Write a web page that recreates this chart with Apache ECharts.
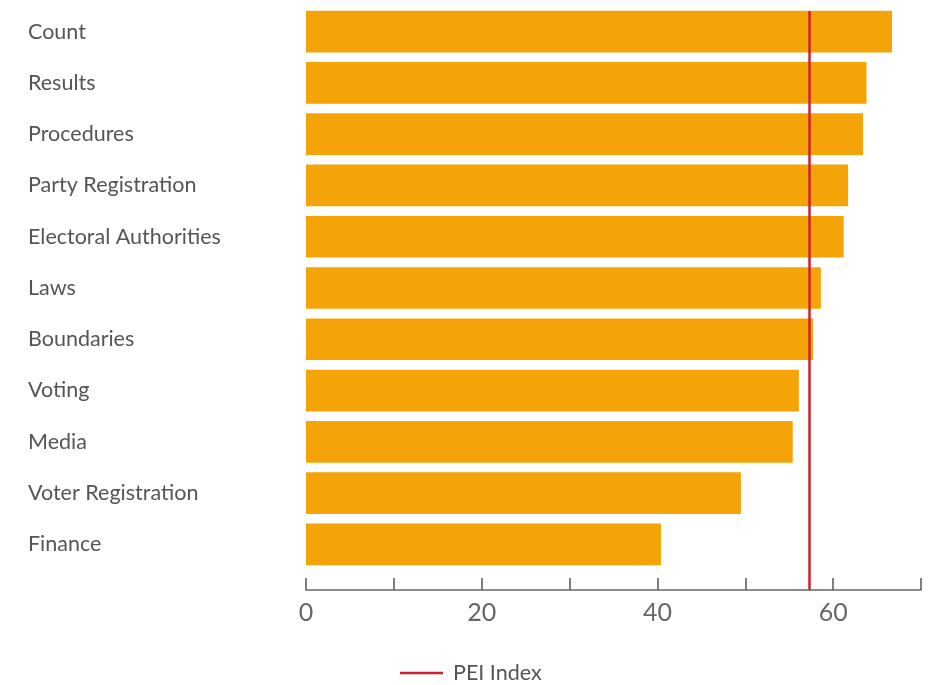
<!DOCTYPE html>
<html>
<head>
<meta charset="utf-8">
<script src="https://cdn.jsdelivr.net/npm/echarts@6/dist/echarts.min.js"></script>
<style>
html,body{margin:0;padding:0;background:#fff;}
#c{width:929px;height:685px;}
</style>
</head>
<body>
<div id="c"></div>
<script>
const categories = ['Count','Results','Procedures','Party Registration','Electoral Authorities','Laws','Boundaries','Voting','Media','Voter Registration','Finance'];
const values = [66.7, 63.8, 63.4, 61.7, 61.2, 58.6, 57.7, 56.1, 55.4, 49.5, 40.4];
const peiIndex = 57.3;
const xTicks = [0, 20, 40, 60];

const chart = echarts.init(document.getElementById('c'));
const font = 'Lato, "Open Sans", sans-serif';
chart.setOption({
  animation: false,
  textStyle: {fontFamily: font},
  grid: [
    {left: 306, right: 8, top: 6, bottom: 115},
    {left: 306, right: 8, top: 11, bottom: 95}
  ],
  legend: {
    data: [{name: 'PEI Index', icon: 'rect'}],
    left: 395, top: 657,
    itemWidth: 43, itemHeight: 2.5, itemGap: 10,
    textStyle: {fontSize: 21.5, color: '#555', fontFamily: font, padding: [0, 0, 0, 5]}
  },
  xAxis: [
    {gridIndex: 0, type: 'value', min: 0, max: 70, interval: 10, show: false},
    {gridIndex: 1, type: 'value', min: 0, max: 70, interval: 10,
     axisLine: {show: true, lineStyle: {color: '#666', width: 1.5}},
     axisTick: {show: true, inside: true, length: 12, lineStyle: {color: '#555', width: 1.5}},
     splitLine: {show: false},
     axisLabel: {fontSize: 25, color: '#666', margin: 10, fontFamily: font,
       formatter: v => xTicks.indexOf(v) >= 0 ? String(v) : ''}}
  ],
  yAxis: [
    {gridIndex: 0, type: 'category', data: categories, inverse: true,
     axisLine: {show: false}, axisTick: {show: false},
     axisLabel: {align: 'left', margin: 278, fontSize: 21.5, color: '#555', fontFamily: font}},
    {gridIndex: 1, type: 'value', show: false, min: 0, max: 1}
  ],
  series: [
    {type: 'bar', xAxisIndex: 0, yAxisIndex: 0, data: values,
     barCategoryGap: '18.7%', itemStyle: {color: '#F4A408'}, silent: true},
    {type: 'line', name: 'PEI Index', xAxisIndex: 1, yAxisIndex: 1, data: [],
     symbol: 'none', lineStyle: {color: '#D0202E', width: 2.5}, itemStyle: {color: '#D0202E'},
     markLine: {silent: true, symbol: 'none', label: {show: false},
       lineStyle: {color: '#D0202E', width: 2.5, type: 'solid'},
       data: [{xAxis: peiIndex}]}}
  ]
});
</script>
</body>
</html>
